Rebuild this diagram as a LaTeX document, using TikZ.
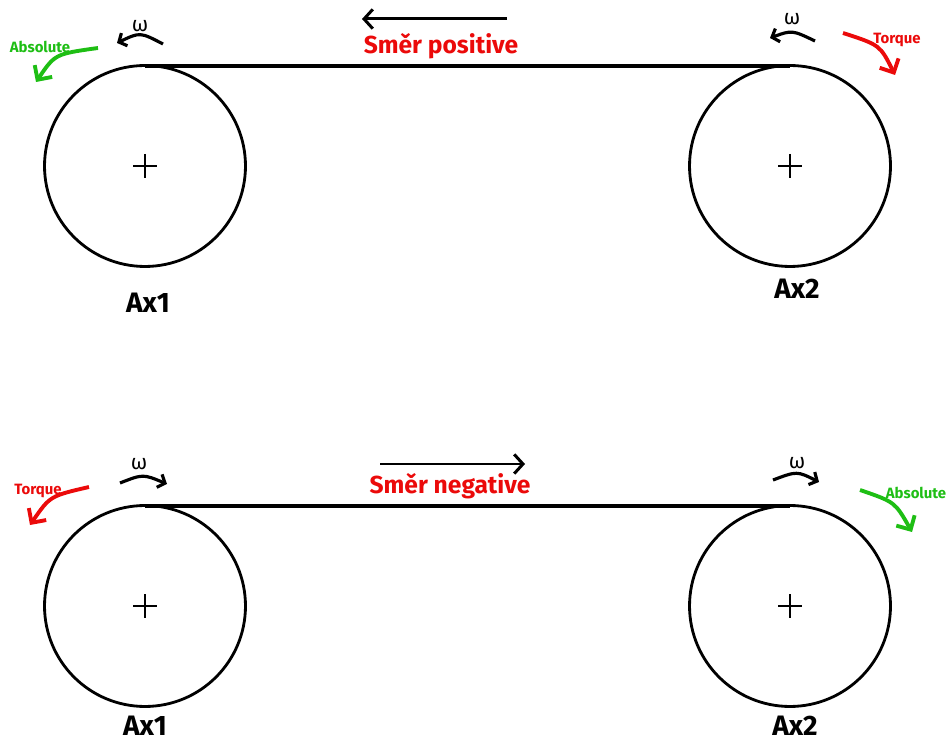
\documentclass[tikz,border=0pt]{standalone}
\usepackage{fontspec}
\setmainfont{Fira Sans}
\usetikzlibrary{arrows.meta}
\definecolor{torquered}{RGB}{235,10,10}
\definecolor{absgreen}{RGB}{30,190,20}

\begin{document}
\begin{tikzpicture}[x=0.02cm, y=-0.02cm,
    wheel/.style={circle, draw, line width=1.6pt, minimum size=4.02cm, inner sep=0pt},
    belt/.style={line width=2.1pt},
    axlabel/.style={font=\bfseries\fontsize{16}{19}\selectfont, inner sep=0pt},
    dirlabel/.style={text=torquered, font=\bfseries\fontsize{14}{17}\selectfont},
    tag/.style={font=\bfseries\fontsize{8.5}{10}\selectfont},
    omega/.style={font=\fontsize{12}{14}\selectfont},
    spin/.style={line width=1.8pt, -{Straight Barb[length=3.5pt,width=8pt]}},
    turn/.style={line width=2.2pt, -{Straight Barb[length=6pt,width=12pt]}},
    course/.style={line width=1.7pt, -{Straight Barb[length=5pt,width=11pt]}}
  ]
    \useasboundingbox (0,0) rectangle (949,742);

    % upper pair: positive direction
    \node[wheel] (w1) at (145,166) {};
    \node[wheel] (w2) at (790,166) {};
    \draw[belt] ([yshift=-1pt]w1.north) -- ([yshift=-1pt]w2.north);
    \draw[line width=1.4pt] (w1.center) +(-12,0) -- +(12,0) +(0,-12) -- +(0,12);
    \draw[line width=1.4pt] (w2.center) +(-12,0) -- +(12,0) +(0,-12) -- +(0,12);
    \node[axlabel] (ax1) at (148,303) {Ax1};
    \node[axlabel] (ax2) at (797,289) {Ax2};

    \node[dirlabel] (pos) at (441,46) {Směr positive};
    \coordinate (posA) at (507,19);
    \coordinate (posB) at (362,19);
    \draw[course] (posA) -- (posB);

    \node[omega] (om1) at (140,26) {ω};
    \coordinate (om1a) at (163,44);
    \coordinate (om1b) at (117,43);
    \draw[spin] (om1a) .. controls (140,32) .. (om1b);
    \node[omega] (om2) at (792,19) {ω};
    \coordinate (om2a) at (815,41);
    \coordinate (om2b) at (770,38);
    \draw[spin] (om2a) .. controls (792,30) .. (om2b);

    \node[tag, text=absgreen] (abs1) at (40,47) {Absolute};
    \coordinate (abs1a) at (98,48);
    \coordinate (abs1b) at (36,82);
    \draw[turn, absgreen] (abs1a) .. controls (55,54) .. (abs1b);
    \node[tag, text=torquered] (tq1) at (897,40) {Torque};
    \coordinate (tq1a) at (843,33);
    \coordinate (tq1b) at (895,75);
    \draw[turn, torquered] (tq1a) .. controls (880,45) .. (tq1b);

    % lower pair: negative direction
    \node[wheel] (w3) at (145,606) {};
    \node[wheel] (w4) at (790,606) {};
    \draw[belt] ([yshift=-1pt]w3.north) -- ([yshift=-1pt]w4.north);
    \draw[line width=1.4pt] (w3.center) +(-12,0) -- +(12,0) +(0,-12) -- +(0,12);
    \draw[line width=1.4pt] (w4.center) +(-12,0) -- +(12,0) +(0,-12) -- +(0,12);
    \node[axlabel] (ax3) at (145,726) {Ax1};
    \node[axlabel] (ax4) at (795,726) {Ax2};

    \node[dirlabel] (neg) at (450,486) {Směr negative};
    \coordinate (negA) at (380,464);
    \coordinate (negB) at (525,464);
    \draw[course] (negA) -- (negB);

    \node[omega] (om3) at (139,464) {ω};
    \coordinate (om3a) at (120,483);
    \coordinate (om3b) at (167,484);
    \draw[spin] (om3a) .. controls (143,474) .. (om3b);
    \node[omega] (om4) at (797,463) {ω};
    \coordinate (om4a) at (773,480);
    \coordinate (om4b) at (819,482);
    \draw[spin] (om4a) .. controls (797,471) .. (om4b);

    \node[tag, text=torquered] (tq2) at (38,491) {Torque};
    \coordinate (tq2a) at (89,487);
    \coordinate (tq2b) at (30,525);
    \draw[turn, torquered] (tq2a) .. controls (50,496) .. (tq2b);
    \node[tag, text=absgreen] (abs2) at (916,493) {Absolute};
    \coordinate (abs2a) at (860,490);
    \coordinate (abs2b) at (912,532);
    \draw[turn, absgreen] (abs2a) .. controls (895,502) .. (abs2b);
  \end{tikzpicture}
\end{document}
